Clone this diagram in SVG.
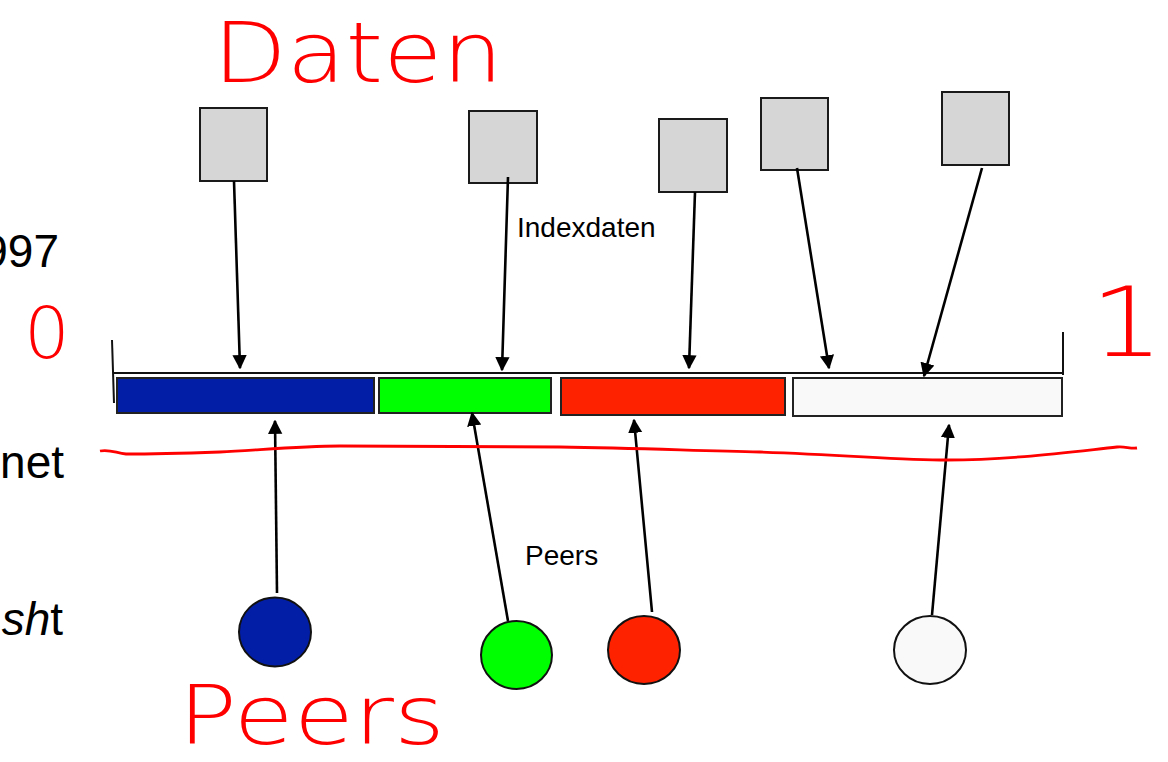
<svg xmlns="http://www.w3.org/2000/svg" width="1168" height="762" viewBox="0 0 1168 762">
<style>
.sq{fill:#d6d6d6;stroke:#1a1a1a;stroke-width:2}
.bar{stroke:#222;stroke-width:2}
.peer{stroke:#111;stroke-width:2}
.con{stroke:#000;stroke-width:2.6;fill:none;marker-end:url(#ah)}
.ln{stroke:#111;stroke-width:2;fill:none}
.lbl{font-family:"Liberation Sans",Arial,sans-serif;font-size:28px;fill:#000}
.big{font-family:"Liberation Sans",Arial,sans-serif;font-size:46px;fill:#000}
.ink{font-family:"DejaVu Sans","Liberation Sans",sans-serif;font-weight:200;fill:#ff0000}
</style>
<defs>
<marker id="ah" viewBox="0 0 10 10" refX="9" refY="5" markerWidth="5.5" markerHeight="6" orient="auto" markerUnits="strokeWidth">
<path d="M0,0 L10,5 L0,10 z" fill="#000"/>
</marker>
</defs>
<rect width="1168" height="762" fill="#fff"/>

<g id="left-text">
<text class="big" x="59" y="267" text-anchor="end">997</text>
<text class="big" x="64" y="478" text-anchor="end">net</text>
<text class="big" x="63" y="635" text-anchor="end"><tspan font-style="italic">sh</tspan>t</text>
</g>

<g id="bracket">
<path class="ln" d="M112,340 L114,403"/>
<path class="ln" d="M113,373 L1063,373"/>
<path class="ln" d="M1063,332 L1063,375"/>
</g>

<g id="data1"><rect class="sq" x="200" y="108" width="67" height="73"/></g>
<g id="data2"><rect class="sq" x="469" y="111" width="68" height="72"/></g>
<g id="data3"><rect class="sq" x="659" y="119" width="68" height="73"/></g>
<g id="data4"><rect class="sq" x="761" y="98" width="67" height="72"/></g>
<g id="data5"><rect class="sq" x="942" y="92" width="67" height="73"/></g>

<g id="seg-blue"><rect class="bar" x="117" y="378" width="257" height="35" fill="#031ea6"/></g>
<g id="seg-green"><rect class="bar" x="379" y="378" width="172" height="35" fill="#00ff00"/></g>
<g id="seg-red"><rect class="bar" x="561" y="378" width="224" height="37" fill="#ff2200"/></g>
<g id="seg-white"><rect class="bar" x="793" y="378" width="269" height="38" fill="#f9f9f9"/></g>

<g id="peer-blue"><ellipse class="peer" cx="275" cy="632" rx="36" ry="34.5" fill="#031ea6"/></g>
<g id="peer-green"><ellipse class="peer" cx="516.5" cy="655" rx="35.5" ry="34" fill="#00ff00"/></g>
<g id="peer-red"><ellipse class="peer" cx="644" cy="650" rx="36" ry="34" fill="#ff2200"/></g>
<g id="peer-white"><ellipse class="peer" cx="930" cy="650" rx="36" ry="34" fill="#f9f9f9"/></g>

<g id="connectors">
<path class="con" d="M234,181 L240,368"/>
<path class="con" d="M508,177 L502,370"/>
<path class="con" d="M695,192 L689,368"/>
<path class="con" d="M797,168 L829,368"/>
<path class="con" d="M982,168 L924,376"/>
<path class="con" d="M277,593 L275,421"/>
<path class="con" d="M508,621 L472,413"/>
<path class="con" d="M652,612 L634,420"/>
<path class="con" d="M932,615 L949,425"/>
</g>

<g id="labels">
<text class="lbl" x="517" y="237">Indexdaten</text>
<text class="lbl" x="525" y="565">Peers</text>
</g>

<g id="annotations">
<path d="M100,451 C110,449 116,453 126,454 C160,454 190,453 220,452 C260,450 300,446 340,446 C420,446 500,447 560,447 C640,448 700,451 760,452 C850,455 900,460 947,460 C1010,460 1070,452 1117,447 C1125,446 1130,449 1137,448" fill="none" stroke="#ff0000" stroke-width="2.8"/>
<text class="ink" x="213" y="82" font-size="84" textLength="290" lengthAdjust="spacingAndGlyphs">Daten</text>
<text class="ink" x="178" y="744" font-size="82" textLength="267" lengthAdjust="spacingAndGlyphs">Peers</text>
<text class="ink" x="24" y="358" font-size="72">0</text>
<text class="ink" x="1090" y="356" font-size="96" textLength="74" lengthAdjust="spacingAndGlyphs">1</text>
</g>
</svg>
